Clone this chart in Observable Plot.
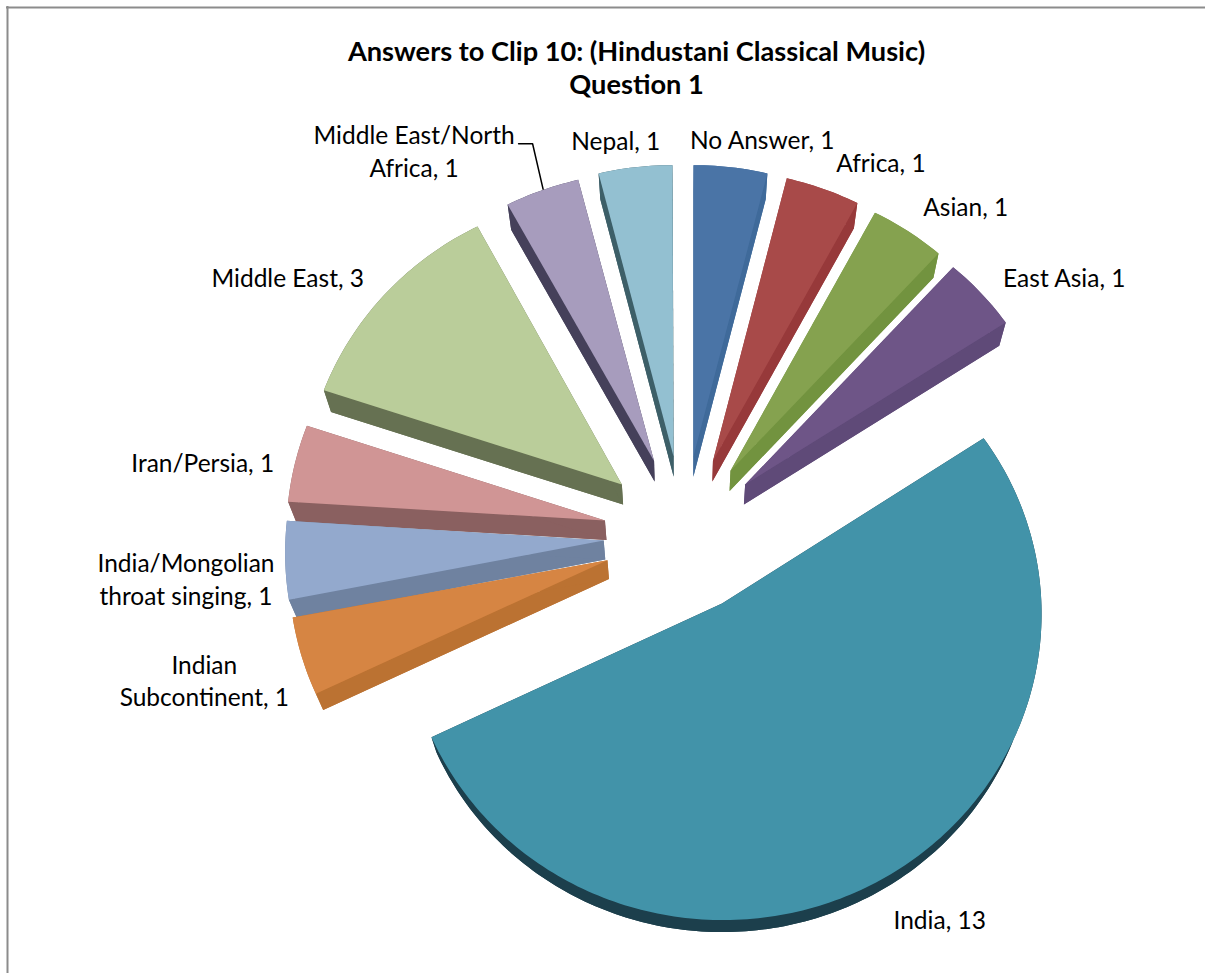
<!DOCTYPE html>
<html>
<head>
<meta charset="utf-8">
<style>html,body{margin:0;padding:0;background:#fff}svg{display:block}</style>
<script src="https://cdn.jsdelivr.net/npm/d3@7"></script>
<script src="https://cdn.jsdelivr.net/npm/@observablehq/plot@0.6"></script>
</head>
<body>
<script>
const categories = ["No Answer","Africa","Asian","East Asia","India","Indian Subcontinent","India/Mongolian throat singing","Iran/Persia","Middle East","Middle East/North Africa","Nepal"];
const values = [1,1,1,1,13,1,1,1,3,1,1];
const labelTexts = ["No Answer, 1","Africa, 1","Asian, 1","East Asia, 1","India, 13","Indian\nSubcontinent, 1","India/Mongolian\nthroat singing, 1","Iran/Persia, 1","Middle East, 3","Middle East/North\nAfrica, 1","Nepal, 1"];
const topColors = ["#4a74a6","#a84a49","#85a24f","#6e5587","#4293a9","#d68543","#93a9cd","#d09595","#bacd9a","#a79cbd","#93c0d1"];
const sideColors = ["#3f6a9a","#97393a","#72933f","#5f4a78","#1c3f4c","#bb7232","#6f82a0","#8a6060","#667152","#45405a","#3d5f68"];
const labelNudgeX = [32,59.5,60,86,64,-101,-103,-96,-101,-131.5,-21];
const labelNudgeY = [-27.4,-25.4,-24.2,-15,35.7,21,18,-0.3,-15,-37,-26.4];
const rimLift = [1.5,1.5,1.5,1.5,-2,-2,0,1,1.5,3,1.5];
const rimShift = [0,0,0,0,1,0,0,0,0,-2,-1];
const apexLift = [0,0,0,0,-2,0,0,0,0,0,0];
const drawOrder = [0,1,2,3,10,9,8,7,6,5,4];
const titleText = "Answers to Clip 10: (Hindustani Classical Music)\nQuestion 1";

// Exploded 3-D pie: layout of the view, in the units of the x and y scales
const W = 1205, H = 973;
const cx = 683, cy = 535, explode = 80, widen = 1.012;
const radius = a => 305.5 - 13*Math.cos(a) + 9*Math.sin(a)**2;
const depth = p => [683 + 0.98*(p[0]-683), 1568 + 0.9815*(p[1]-1568)];

const arcs = d3.pie().sort(null).startAngle(0).endAngle(2*Math.PI)(values);
const rows = [], labels = [], leaders = [];
function poly(z, tone, pts){ pts.forEach(p => rows.push({z, tone, x:p[0], y:p[1]})); }
const slices = arcs.map((a,i) => {
  const mid = (a.startAngle+a.endAngle)/2;
  const ax = cx + explode*Math.sin(mid), ay = cy - explode*Math.cos(mid) + apexLift[i];
  const rim = [];
  const n = Math.max(8, Math.round((a.endAngle-a.startAngle)/(Math.PI/180)));
  for (let k=0;k<=n;k++){
    const t = a.startAngle + (a.endAngle-a.startAngle)*k/n, r = radius(t);
    rim.push([ax + widen*r*Math.sin(t) + rimShift[i], ay - r*Math.cos(t) + rimLift[i]]);
  }
  const rm = radius(mid);
  return {i, mid, apex:[ax,ay], rim, anchor:[ax+rm*Math.sin(mid), ay-rm*Math.cos(mid)]};
});
drawOrder.forEach(i => {
  const s = slices[i], name = categories[i];
  const top = [s.apex, ...s.rim];
  const low = top.map(depth);
  const side = name + " side";
  poly(name+" b", side, low);
  poly(name+" w", side, [...s.rim, ...s.rim.map(depth).reverse()]);
  poly(name+" l", side, [s.apex, s.rim[0], depth(s.rim[0]), depth(s.apex)]);
  poly(name+" r", side, [s.apex, s.rim[s.rim.length-1], depth(s.rim[s.rim.length-1]), depth(s.apex)]);
  poly(name+" t", name, top);
});
slices.forEach(s => labels.push({text:labelTexts[s.i], x:s.anchor[0]+labelNudgeX[s.i], y:s.anchor[1]+labelNudgeY[s.i]}));
const mena = slices[categories.indexOf("Middle East/North Africa")].anchor;
[[-2.5,2],[-13,-43.4],[-27,-43.4]].forEach(d => leaders.push({x:mena[0]+d[0], y:mena[1]+d[1]}));

const plot = Plot.plot({
  width: W, height: H,
  margin: 0,
  x: {domain:[0,W], range:[0,W], axis:null},
  y: {domain:[0,H], range:[0,H], axis:null},
  color: {type:"ordinal", domain:[...categories, ...categories.map(c=>c+" side")], range:[...topColors, ...sideColors]},
  style: {background:"#fff", fontFamily:"Lato"},
  marks: [
    Plot.ruleX([7], {y1:6, y2:H, stroke:"#8c8c8c", strokeWidth:2}),
    Plot.ruleY([7], {x1:6, x2:W, stroke:"#8c8c8c", strokeWidth:2}),
    Plot.line(rows, {x:"x", y:"y", z:"z", fill:"tone", stroke:"none"}),
    Plot.line(leaders, {x:"x", y:"y", stroke:"#000", strokeWidth:1.5}),
    Plot.text(labels, {x:"x", y:"y", text:"text", fill:"#000", fontSize:24.5, fontFamily:"Lato", lineHeight:1.33, textAnchor:"middle"}),
    Plot.text([titleText], {x:()=>636, y:()=>66, text:d=>d, fill:"#000", fontSize:27.2, fontWeight:"bold", fontFamily:"Lato", lineHeight:1.21, textAnchor:"middle"})
  ]
});
document.body.appendChild(plot);
</script>
</body>
</html>
